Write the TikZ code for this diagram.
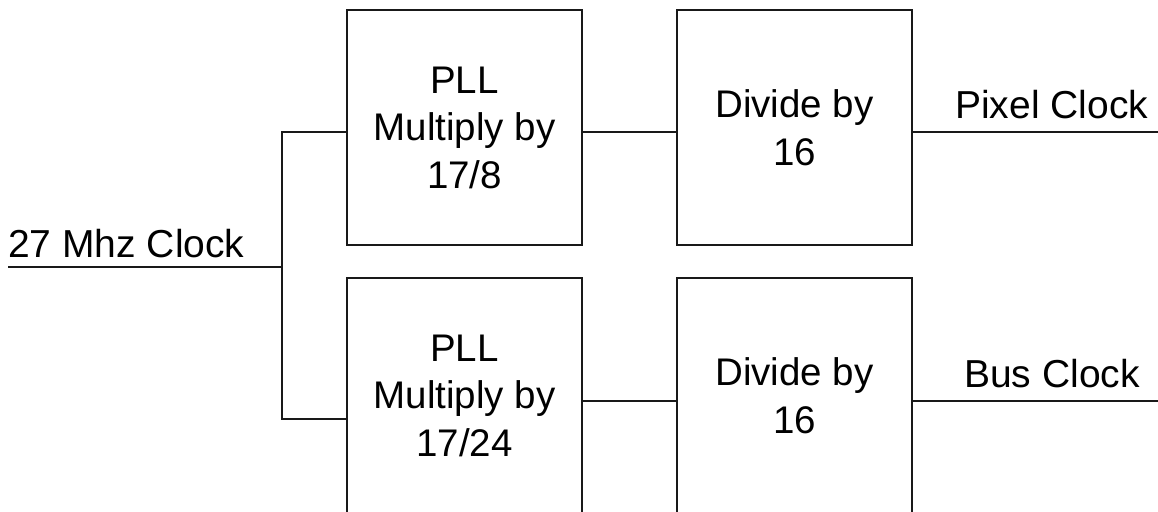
\documentclass[tikz,border=0pt]{standalone}
\usepackage{fontspec}
\setmainfont{Liberation Sans}
\usetikzlibrary{calc}
\begin{document}
\begin{tikzpicture}[x=1pt,y=-1pt,
  wire/.style={line width=1.6pt, draw=black!90},
  block/.style={draw=black!90, line width=1.6pt, rectangle, inner sep=0pt,
    minimum width=235pt, minimum height=235pt, align=center,
    font=\fontsize{38.5}{47.5}\selectfont},
  lbl/.style={inner sep=0pt, font=\fontsize{39}{47.5}\selectfont}]
  \path[use as bounding box, clip] (0,0) rectangle (1158,511);

  % signal rows
  \coordinate (rowA) at (0,132);
  \coordinate (rowB) at (0,401);
  \coordinate (rowC) at (0,419);

  % processing blocks
  \node[block] (pll1) at (464.5,127.5) {PLL\\Multiply by\\17/8};
  \node[block] (div1) at (794.5,127.5) {Divide by\\16};
  \node[block] (pll2) at (464.5,395.5) {PLL\\Multiply by\\17/24};
  \node[block] (div2) at (794.5,395.5) {Divide by\\16};

  % input clock and its fan-out point
  \coordinate (in) at (8,267);
  \coordinate (split) at (282,267);
  \node[lbl, anchor=base west] (inlbl) at (8,257) {27 Mhz Clock};

  % output ends
  \coordinate (outA) at (1158,132);
  \coordinate (outB) at (1158,401);
  \node[lbl, anchor=base west] (pixlbl) at (955,118) {Pixel Clock};
  \node[lbl, anchor=base west] (buslbl) at (964,387) {Bus Clock};

  % connections
  \draw[wire] (in) -- (split);
  \draw[wire] (pll1.west |- rowA) -| (split) |- (pll2.west |- rowC);
  \draw[wire] (pll1.east |- rowA) -- (div1.west |- rowA);
  \draw[wire] (pll2.east |- rowB) -- (div2.west |- rowB);
  \draw[wire] (div1.east |- rowA) -- (outA);
  \draw[wire] (div2.east |- rowB) -- (outB);
\end{tikzpicture}
\end{document}
